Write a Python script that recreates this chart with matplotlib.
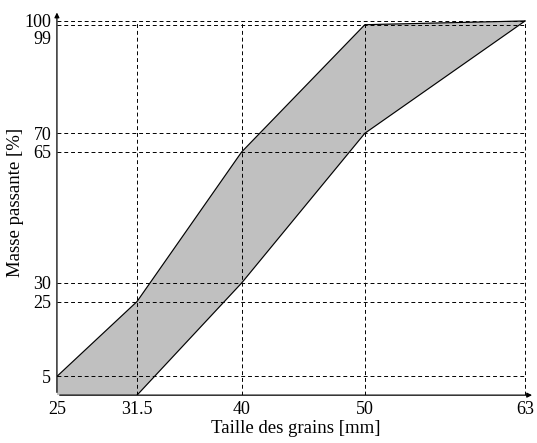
#!/usr/bin/python3

# numpy and plotting
import matplotlib.pyplot as plt
import matplotlib.transforms as mtransforms
import numpy as np

plt.rcParams['font.family'] = ['Liberation Serif', 'DejaVu Serif']

########################################################################################
# fuseau granulometrique
x_ticks = [25, 31.5, 40, 50, 63]
x_labels = ['25', '31.5', '40', '50', '63']
y_ticks = [5, 25, 30, 65, 70, 99, 100]
y_labels = ['5', '25', '30', '65', '70', '99', '100']

upper_x = [25, 25, 31.5, 40, 50, 63]
upper_y = [0, 5, 25, 65, 99, 100]
lower_x = [31.5, 40, 50, 63]
lower_y = [0, 30, 70, 100]

########################################################################################
fig = plt.figure(figsize=(5.37, 4.43), dpi=100)
ax = fig.add_axes([0.106, 0.108, 0.89, 0.87])

# gray band
poly_x = upper_x + lower_x[::-1]
poly_y = upper_y + lower_y[::-1]
ax.fill(poly_x, poly_y, color='#c0c0c0', zorder=1)
ax.plot(upper_x[1:], upper_y[1:], color='black', linewidth=0.8, zorder=3)
ax.plot(lower_x, lower_y, color='black', linewidth=0.8, zorder=3)

# dashed guides
dash = (0, (4, 3))
for yv in y_ticks:
    ax.plot([x_ticks[0], x_ticks[-1]], [yv, yv], color='black', linewidth=0.7, linestyle=dash, zorder=2)
for xv in x_ticks[1:]:
    ax.plot([xv, xv], [0, 100], color='black', linewidth=0.7, linestyle=dash, zorder=2)

ax.set_xlim(25, 63.8)
ax.set_ylim(0, 103)

ax.set_xticks(x_ticks)
ax.set_xticklabels(x_labels)
ax.set_yticks(y_ticks)
ax.set_yticklabels(y_labels)
ax.tick_params(length=0, labelsize=13, pad=4)

# pull apart the 99 / 100 labels
for lab in ax.get_yticklabels():
    if lab.get_text() == '99':
        dy = -9
    elif lab.get_text() == '100':
        dy = 0.5
    else:
        continue
    lab.set_transform(lab.get_transform() + mtransforms.ScaledTranslation(0, dy / 72., fig.dpi_scale_trans))

for s in ['top', 'right', 'left', 'bottom']:
    ax.spines[s].set_visible(False)

# axes with arrows
ax.annotate('', xy=(1.0, 0), xytext=(0, 0), xycoords='axes fraction',
            arrowprops=dict(arrowstyle='-|>', color='black', linewidth=0.9, mutation_scale=7))
ax.annotate('', xy=(0, 1.0), xytext=(0, 0), xycoords='axes fraction',
            arrowprops=dict(arrowstyle='-|>', color='black', linewidth=0.9, mutation_scale=7))

ax.set_xlabel('Taille des grains [mm]', fontsize=13.5, labelpad=2)
ax.set_ylabel('Masse passante [%]', fontsize=13.5, labelpad=0)

plt.savefig('out.png', dpi=100)
